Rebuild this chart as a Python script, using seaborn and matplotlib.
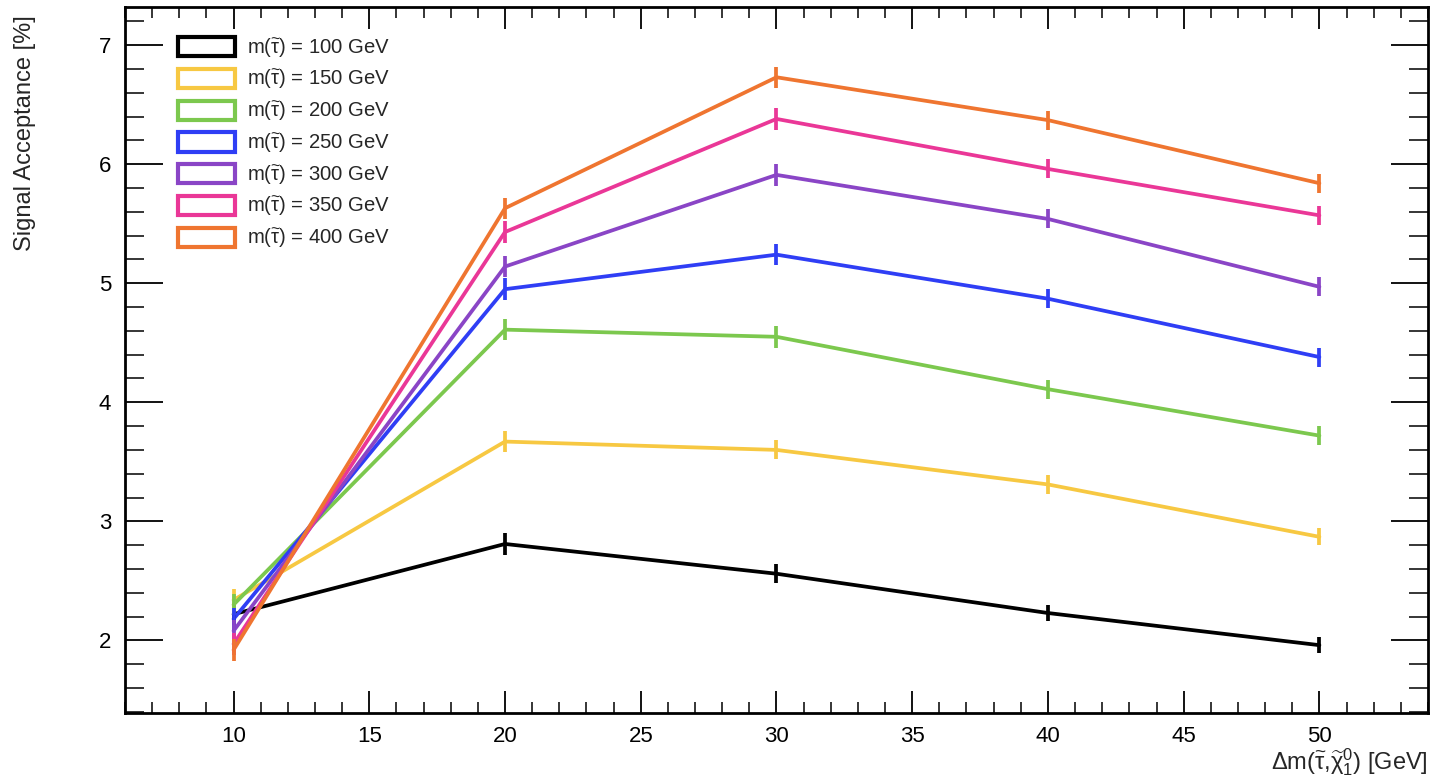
import matplotlib
matplotlib.use("Agg")
import matplotlib.pyplot as plt
from matplotlib.patches import Rectangle
from matplotlib.ticker import MultipleLocator
import seaborn as sns
import pandas as pd

dm = [10, 20, 30, 40, 50]
masses = ["100", "150", "200", "250", "300", "350", "400"]
acc_100 = [2.22, 2.81, 2.56, 2.23, 1.96]
acc_150 = [2.34, 3.67, 3.60, 3.31, 2.87]
acc_200 = [2.30, 4.61, 4.55, 4.11, 3.72]
acc_250 = [2.18, 4.95, 5.24, 4.87, 4.38]
acc_300 = [2.08, 5.14, 5.91, 5.54, 4.97]
acc_350 = [1.97, 5.43, 6.38, 5.96, 5.57]
acc_400 = [1.92, 5.63, 6.73, 6.37, 5.84]
err_100 = [0.09, 0.09, 0.08, 0.07, 0.07]
err_150 = [0.09, 0.09, 0.08, 0.08, 0.07]
err_200 = [0.09, 0.09, 0.09, 0.08, 0.08]
err_250 = [0.09, 0.09, 0.09, 0.08, 0.08]
err_300 = [0.09, 0.09, 0.09, 0.08, 0.08]
err_350 = [0.09, 0.09, 0.09, 0.08, 0.08]
err_400 = [0.09, 0.09, 0.09, 0.08, 0.08]
colors = ["#000000", "#f7c842", "#7cc84e", "#2f3ef5", "#8a45c6", "#ea3797", "#ef7530"]

accs = [acc_100, acc_150, acc_200, acc_250, acc_300, acc_350, acc_400]
errs = [err_100, err_150, err_200, err_250, err_300, err_350, err_400]

rows = []
for m, a, e in zip(masses, accs, errs):
    for x, y, ee in zip(dm, a, e):
        rows.append({"dm": x, "acc": y, "err": ee, "mass": m})
df = pd.DataFrame(rows)

sns.set_theme(style="white")
plt.rcParams["font.family"] = ["Liberation Sans", "DejaVu Sans"]
plt.rcParams["mathtext.fontset"] = "custom"
plt.rcParams["mathtext.rm"] = "Liberation Sans"
plt.rcParams["mathtext.it"] = "Liberation Sans"
plt.rcParams["mathtext.bf"] = "Liberation Sans:bold"

fig = plt.figure(figsize=(14.35, 7.79), dpi=100)
ax = fig.add_axes([0.0871, 0.0847, 0.908, 0.9063])

palette = dict(zip(masses, colors))
sns.lineplot(data=df, x="dm", y="acc", hue="mass", palette=palette, ax=ax,
             linewidth=2.7, legend=False, errorbar=None, sort=False)
for m, a, e, c in zip(masses, accs, errs, colors):
    ax.errorbar(dm, a, yerr=e, fmt="none", ecolor=c, elinewidth=2.7, capsize=0)

ax.set_xlim(6, 54)
ax.set_ylim(1.39, 7.32)
ax.xaxis.set_major_locator(MultipleLocator(5))
ax.xaxis.set_minor_locator(MultipleLocator(1))
ax.yaxis.set_major_locator(MultipleLocator(1))
ax.yaxis.set_minor_locator(MultipleLocator(0.2))
ax.tick_params(axis="x", which="major", direction="in", length=16, width=1.3,
               top=True, bottom=True, labelsize=16, pad=9, colors="black")
ax.tick_params(axis="x", which="minor", direction="in", length=8, width=1.3,
               top=True, bottom=True)
ax.tick_params(axis="y", which="major", direction="in", length=27, width=1.3,
               left=True, right=True, labelsize=16, pad=10, colors="black")
ax.tick_params(axis="y", which="minor", direction="in", length=14, width=1.3,
               left=True, right=True)
for s in ax.spines.values():
    s.set_linewidth(2.0)
    s.set_color("black")

ax.set_xlabel(r"$\Delta$m($\widetilde{\tau}$,$\widetilde{\chi}_{1}^{0}$) [GeV]",
              loc="right", fontsize=17, labelpad=0)
ax.set_ylabel("Signal Acceptance [%]", loc="top", fontsize=17, labelpad=40)
ax.yaxis.set_label_coords(-0.068, 0.988)

handles = [Rectangle((0, 0), 1, 1, facecolor="white", edgecolor=c, linewidth=3.0)
           for c in colors]
labels = [r"m($\widetilde{\tau}$) = %s GeV" % m for m in masses]
leg = ax.legend(handles, labels, loc="upper left", bbox_to_anchor=(0.0405, 0.959),
                frameon=False, fontsize=14.6, handlelength=2.8, handleheight=1.08,
                labelspacing=0.40, handletextpad=0.62, borderaxespad=0, borderpad=0)

fig.savefig("out.png", dpi=100)
